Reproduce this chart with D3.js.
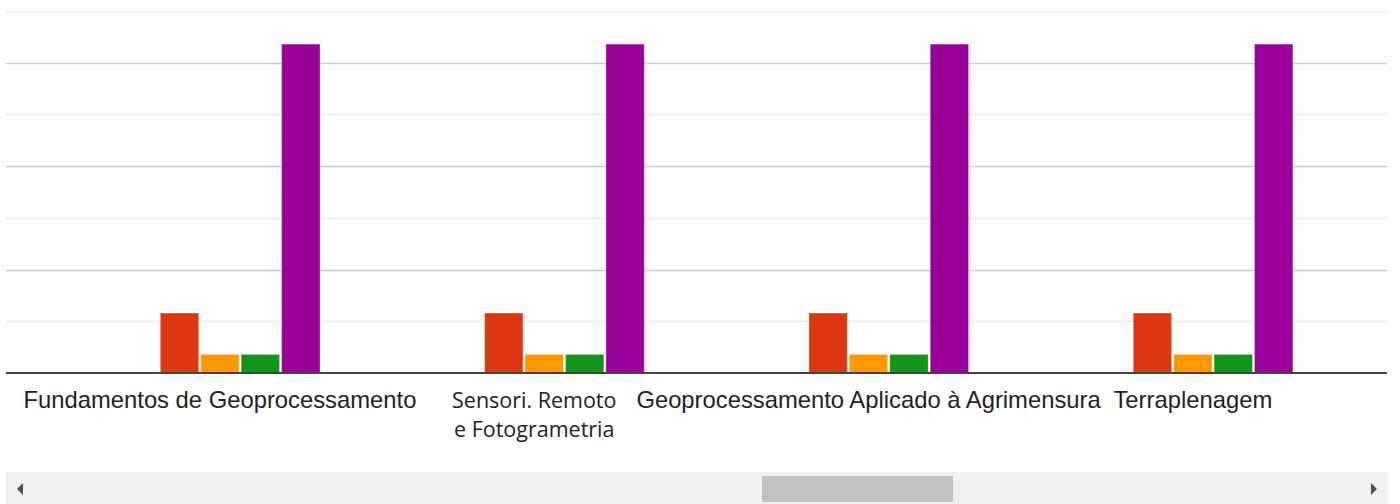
<!DOCTYPE html>
<html>
<head>
<meta charset="utf-8">
<script src="https://cdn.jsdelivr.net/npm/d3@7"></script>
<style>
  body { margin: 0; background: #fff; }
  svg { display: block; }
</style>
</head>
<body>
<svg width="1400" height="504"></svg>
<script>
// categories (label lines as they appear under the axis)
var categories = ["Fundamentos de Geoprocessamento", "Sensori. Remoto e Fotogrametria",
                  "Geoprocessamento Aplicado à Agrimensura", "Terraplenagem"];
var categoryLines = [["Fundamentos de Geoprocessamento"], ["Sensori. Remoto", "e Fotogrametria"],
                     ["Geoprocessamento Aplicado à Agrimensura"], ["Terraplenagem"]];

// series values, one per category
var seriesKeys = ["s1", "s2", "s3", "s4", "s5"];
var s1Values = [0, 0, 0, 0];
var s2Values = [2.9, 2.9, 2.9, 2.9];
var s3Values = [0.9, 0.9, 0.9, 0.9];
var s4Values = [0.9, 0.9, 0.9, 0.9];
var s5Values = [15.9, 15.9, 15.9, 15.9];
var seriesColors = ["#3366cc", "#dc3912", "#ff9900", "#109618", "#990099"];

var yMax = 17.5,
    yStep = 2.5;

var svg = d3.select("svg"),
    width = +svg.attr("width"),
    height = +svg.attr("height");

var plotLeft = 6, plotRight = 1387, plotTop = 11, plotBottom = 373;

var allValues = [s1Values, s2Values, s3Values, s4Values, s5Values];
var rows = categories.map(function(c, i) {
    var row = { cat: c };
    seriesKeys.forEach(function(k, j) { row[k] = allValues[j][i]; });
    return row;
});

// chart is scrolled: the category bands start off to the left of the visible area
var x0 = d3.scaleBand()
    .domain(categories)
    .range([57.8, 1355])
    .paddingInner(0.383)
    .paddingOuter(0.1915);

var x1 = d3.scaleBand()
    .domain(seriesKeys)
    .range([0, x0.bandwidth()])
    .paddingInner(0.05);

var y = d3.scaleLinear()
    .domain([0, yMax])
    .range([plotBottom, plotTop]);

var color = d3.scaleOrdinal().domain(seriesKeys).range(seriesColors);

// gridlines
var ticks = d3.range(0, yMax + 0.001, yStep);
svg.append("g")
    .selectAll("line")
    .data(ticks.filter(function(t) { return t > 0; }))
    .enter().append("line")
    .attr("x1", plotLeft)
    .attr("x2", plotRight)
    .attr("y1", function(d) { return Math.round(y(d)) + 0.5; })
    .attr("y2", function(d) { return Math.round(y(d)) + 0.5; })
    .attr("stroke", function(d) { return d % 5 === 0 ? "#cccccc" : "#ebebeb"; })
    .attr("stroke-width", 1.5);

// bars
svg.append("g")
    .selectAll("g")
    .data(rows)
    .enter().append("g")
    .attr("transform", function(d) { return "translate(" + x0(d.cat) + ",0)"; })
    .selectAll("rect")
    .data(function(d) { return seriesKeys.map(function(k) { return { key: k, value: d[k] }; }); })
    .enter().append("rect")
    .attr("x", function(d) { return x1(d.key); })
    .attr("y", function(d) { return y(d.value); })
    .attr("width", x1.bandwidth())
    .attr("height", function(d) { return y(0) - y(d.value); })
    .attr("fill", function(d) { return color(d.key); })
    .attr("stroke", "#ffffff")
    .attr("stroke-opacity", 0.35)
    .attr("stroke-width", 1);

// baseline
svg.append("line")
    .attr("x1", plotLeft)
    .attr("x2", plotRight)
    .attr("y1", y(0))
    .attr("y2", y(0))
    .attr("stroke", "#444")
    .attr("stroke-width", 2);

// category labels (the wrapped one renders in a different font, a bit left of centre)
svg.append("g")
    .selectAll("text")
    .data(categories)
    .enter().append("text")
    .each(function(d, i) {
        var lines = categoryLines[i],
            wrapped = lines.length > 1,
            cx = x0(d) + x0.bandwidth() / 2 - (wrapped ? 10 : 0);
        var t = d3.select(this)
            .attr("y", 408)
            .attr("text-anchor", "middle")
            .attr("fill", "#222")
            .style("font-family", wrapped ? "'Open Sans', sans-serif" : "'Liberation Sans', Arial, sans-serif")
            .style("font-size", wrapped ? "21.5px" : "23.8px");
        t.selectAll("tspan")
            .data(lines)
            .enter().append("tspan")
            .attr("x", cx)
            .attr("dy", function(l, j) { return j === 0 ? 0 : 29; })
            .text(function(l) { return l; });
    });

// horizontal scrollbar
var bar = svg.append("g");
bar.append("rect")
    .attr("x", 6).attr("y", 472)
    .attr("width", 1382).attr("height", 32)
    .attr("fill", "#f1f1f1");
bar.append("rect")
    .attr("x", 762).attr("y", 476)
    .attr("width", 191).attr("height", 26)
    .attr("fill", "#c1c1c1");
bar.append("path")
    .attr("d", "M17,489 L23,483 L23,495 Z")
    .attr("fill", "#505050");
bar.append("path")
    .attr("d", "M1377,489 L1371,483 L1371,495 Z")
    .attr("fill", "#505050");
</script>
</body>
</html>
